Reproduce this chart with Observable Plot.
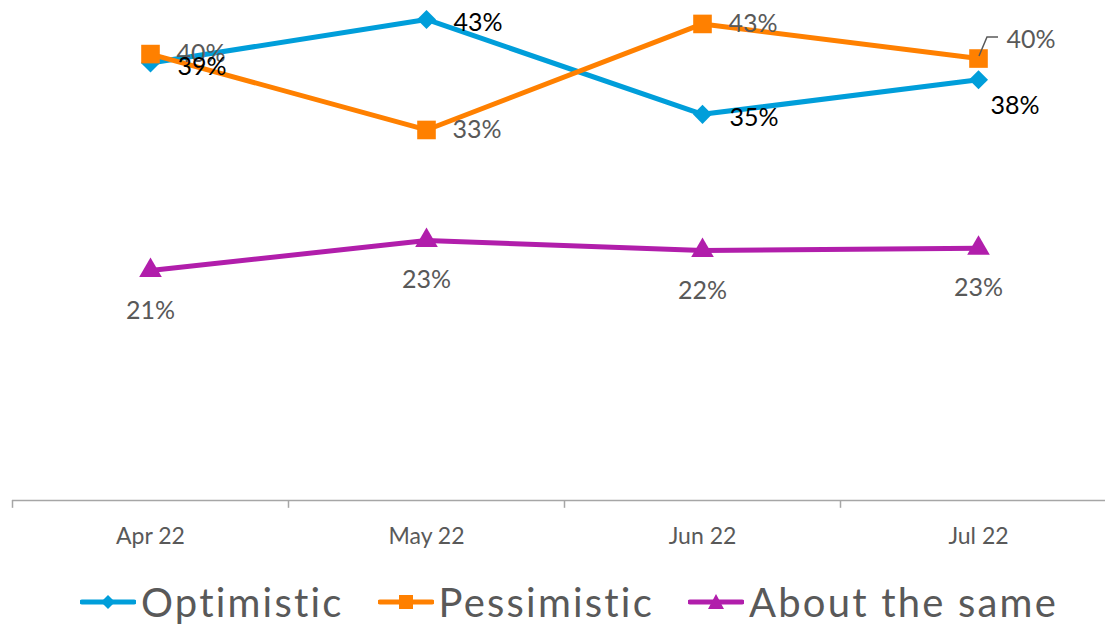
<!DOCTYPE html>
<html><head><meta charset="utf-8">
<script src="https://cdn.jsdelivr.net/npm/d3@7"></script>
<script src="https://cdn.jsdelivr.net/npm/@observablehq/plot@0.6"></script>
<style>
html,body{margin:0;padding:0;background:#fff;overflow:hidden;width:1105px;height:626px;}
#chart svg{display:block;max-width:none !important;}
.legend{display:flex;align-items:center;height:40px;margin-top:22px;padding-left:80px;font-family:Lato,sans-serif;font-size:40px;letter-spacing:2.2px;color:#595959;white-space:nowrap;line-height:40px;}
.item{display:flex;align-items:center;margin-right:34px;}
.item svg{margin-right:5px;display:block;}
</style></head><body>
<div id="chart"></div>
<div class="legend" id="legend"></div>
<script>
const months = ["Apr 22", "May 22", "Jun 22", "Jul 22"];
const seriesNames = ["Optimistic", "Pessimistic", "About the same"];
const optimistic = [39.2, 43.1, 34.6, 37.7];
const pessimistic = [40.0, 33.2, 42.7, 39.6];
const aboutSame = [20.6, 23.3, 22.4, 22.6];
const colors = ["#009EDA", "#FF8000", "#B11EAB"];
const symbols = ["diamond2", "square", "triangle"];
const radii = [8.6, 10.5, 8.4];

const seriesValues = [optimistic, pessimistic, aboutSame];
const rows = seriesValues.map((vals, s) => months.map((m, i) => ({
  series: seriesNames[s], month: m, value: vals[i], label: Math.round(vals[i]) + "%"
})));
const [opt, pes, abt] = rows;
const last = months[months.length - 1];

const font = "Lato, sans-serif";
const labelSize = 25;

function seriesMarks(data, s) {
  return [
    Plot.line(data, {x: "month", y: "value", stroke: colors[s], strokeWidth: 5, strokeLinejoin: "round"}),
    Plot.dot(data, {x: "month", y: "value", symbol: () => symbols[s], r: radii[s], fill: colors[s], stroke: "none"})
  ];
}

// leader line for the last Pessimistic label
function leader(index, scales) {
  const d = pes[pes.length - 1];
  const x = scales.x(d.month) + scales.x.bandwidth() / 2;
  const y = scales.y(d.value);
  const p = document.createElementNS("http://www.w3.org/2000/svg", "path");
  p.setAttribute("d", `M${x + 1},${y - 2}L${x + 9},${y - 21}L${x + 20},${y - 21}`);
  p.setAttribute("fill", "none");
  p.setAttribute("stroke", "#595959");
  p.setAttribute("stroke-width", "1.5");
  return p;
}

const chart = Plot.plot({
  width: 1116,
  height: 560,
  marginLeft: 12,
  marginRight: 0,
  marginTop: 0,
  marginBottom: 60,
  style: {fontFamily: font, fontSize: "22px", color: "#595959", background: "white", overflow: "visible", maxWidth: "none"},
  x: {type: "band", domain: months, padding: 0, axis: null},
  y: {domain: [0, 44.8], axis: null},
  marks: [
    Plot.ruleY([0], {stroke: "#A6A6A6", strokeWidth: 1.5}),
    Plot.ruleX(months, {x: d => d, y1: 0, y2: -0.7, dx: -138, stroke: "#A6A6A6", strokeWidth: 1.5}),
    Plot.text(months, {x: d => d, y: 0, text: d => d, dy: 36, fill: "#595959", fontSize: 23, fontFamily: font}),
    ...seriesMarks(opt, 0),
    ...seriesMarks(pes, 1),
    ...seriesMarks(abt, 2),
    leader,
    // Pessimistic labels
    Plot.text(pes.filter(d => d.month !== last), {x: "month", y: "value", text: "label", dx: 26, dy: 0, textAnchor: "start", fill: "#595959", fontSize: labelSize, fontFamily: font}),
    Plot.text(pes.filter(d => d.month === last), {x: "month", y: "value", text: "label", dx: 28, dy: -19, textAnchor: "start", fill: "#595959", fontSize: labelSize, fontFamily: font}),
    // Optimistic labels
    Plot.text(opt.filter(d => d.month !== last), {x: "month", y: "value", text: "label", dx: 27, dy: 4, textAnchor: "start", fill: "#000000", fontSize: labelSize, fontFamily: font}),
    Plot.text(opt.filter(d => d.month === last), {x: "month", y: "value", text: "label", dx: 12, dy: 26, textAnchor: "start", fill: "#000000", fontSize: labelSize, fontFamily: font}),
    // About the same labels
    Plot.text(abt, {x: "month", y: "value", text: "label", dy: 40, textAnchor: "middle", fill: "#595959", fontSize: labelSize, fontFamily: font})
  ]
});
document.getElementById("chart").appendChild(chart);

// legend
const swatchShapes = [
  c => `<polygon points="28,6 35,13 28,20 21,13" fill="${c}"/>`,
  c => `<rect x="21" y="6" width="14" height="14" fill="${c}"/>`,
  c => `<polygon points="28,5 36,20 20,20" fill="${c}"/>`
];
const legend = document.getElementById("legend");
seriesNames.forEach((name, s) => {
  const item = document.createElement("div");
  item.className = "item";
  item.innerHTML = `<svg width="56" height="26" viewBox="0 0 56 26"><line x1="2" y1="13" x2="54" y2="13" stroke="${colors[s]}" stroke-width="5" stroke-linecap="round"/>${swatchShapes[s](colors[s])}</svg><span>${name}</span>`;
  legend.appendChild(item);
});
</script>
</body></html>
